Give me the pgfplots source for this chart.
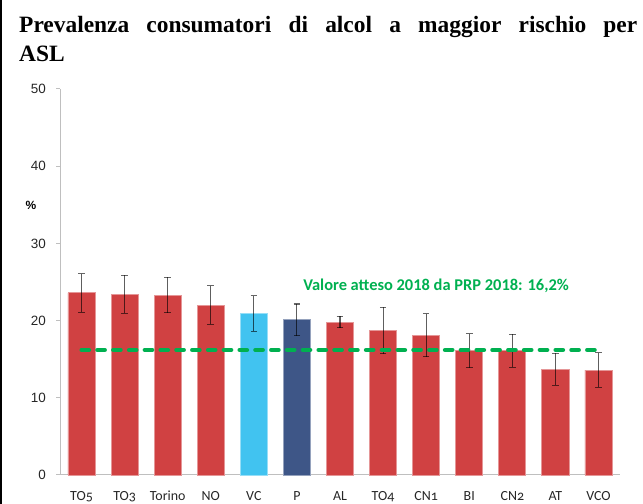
\documentclass[border=0pt]{standalone}
\usepackage{pgfplots}
\pgfplotsset{compat=1.18}
\usepackage{fontspec}
\setmainfont{Liberation Serif}
\newfontfamily\arialf{Liberation Sans}
\newfontfamily\calib[Numbers=OldStyle]{Carlito}
\newfontfamily\calibb{Carlito}
\definecolor{barred}{HTML}{D04142}
\definecolor{barlb}{HTML}{41C3F0}
\definecolor{bardb}{HTML}{3E5687}
\definecolor{pgreen}{HTML}{00B050}
\definecolor{axgray}{HTML}{BFBFBF}
\begin{document}
\begin{tikzpicture}[x=1bp,y=1bp]
\path[use as bounding box] (0,0) rectangle (643,504);
\draw[line width=2.4bp] (1.2,0)--(1.2,504);
\node[anchor=base west, inner sep=0] at (19,471) {\fontsize{23.5}{27}\selectfont\bfseries\makebox[618bp][s]{Prevalenza consumatori di alcol a maggior rischio per}};
\node[anchor=base west, inner sep=0] at (19,442) {\fontsize{23.5}{27}\selectfont\bfseries ASL};
\node[anchor=center, inner sep=0] at (31,299) {\arialf\fontsize{12}{12}\selectfont\bfseries\%};
\begin{axis}[
  at={(60bp,29bp)}, anchor=south west, scale only axis,
  width=560bp, height=386bp,
  xmin=-0.5, xmax=12.5, ymin=0, ymax=50,
  axis lines*=left,
  axis line style={axgray, line width=1bp},
  xtick={0,...,12},
  xticklabels={TO5,TO3,Torino,NO,VC,P,AL,TO4,CN1,BI,CN2,AT,VCO},
  ytick={0,10,...,50},
  x tick style={draw=none},
  y tick style={axgray, line width=1bp},
  tick align=outside,
  major tick length=4bp,
  /pgf/number format/assume math mode=true,
  yticklabel style={font=\arialf\fontsize{13.5}{13.5}\selectfont, text=black!85, anchor=east, inner sep=0pt, xshift=-10bp},
  xticklabel style={font=\calib\fontsize{14}{14}\selectfont, text=black!85, anchor=base, yshift=-22bp},
  clip=false,
  error bars/error bar style={black, opacity=0.6, line width=1.1bp},
  error bars/error mark options={rotate=90, black, opacity=0.6, line width=1.1bp, mark size=3.3bp},
]
\addplot[ybar, bar width=0.63, bar shift=0pt, fill=barred, draw=barred!55!white, line width=0.8bp,
  error bars/.cd, y dir=both, y explicit]
coordinates {
(0,23.6) +- (0,2.5)
(1,23.4) +- (0,2.45)
(2,23.3) +- (0,2.3)
(3,22.0) +- (0,2.5)
(6,19.8) +- (0,0.75)
(7,18.7) +- (0,3.0)
(8,18.1) +- (0,2.8)
(9,16.1) +- (0,2.2)
(10,16.1) +- (0,2.15)
(11,13.7) +- (0,2.05)
(12,13.6) +- (0,2.25)
};
\addplot[ybar, bar width=0.63, bar shift=0pt, fill=barlb, draw=barlb!55!white, line width=0.8bp,
  error bars/.cd, y dir=both, y explicit]
coordinates {(4,20.9) +- (0,2.3)};
\addplot[ybar, bar width=0.63, bar shift=0pt, fill=bardb, draw=bardb!55!white, line width=0.8bp,
  error bars/.cd, y dir=both, y explicit]
coordinates {(5,20.1) +- (0,2.05)};
\addplot[pgreen, line width=4.2bp, line cap=round, dash pattern=on 7.5bp off 8.3bp, mark=none] coordinates {(0,16.2) (11.95,16.2)};
\node[text=pgreen, inner sep=0, font=\calibb\bfseries\fontsize{16.5}{16.5}\selectfont] at (axis cs:8.23,24.55) {Valore atteso 2018 da PRP 2018: 16,2\%};
\end{axis}
\end{tikzpicture}
\end{document}
